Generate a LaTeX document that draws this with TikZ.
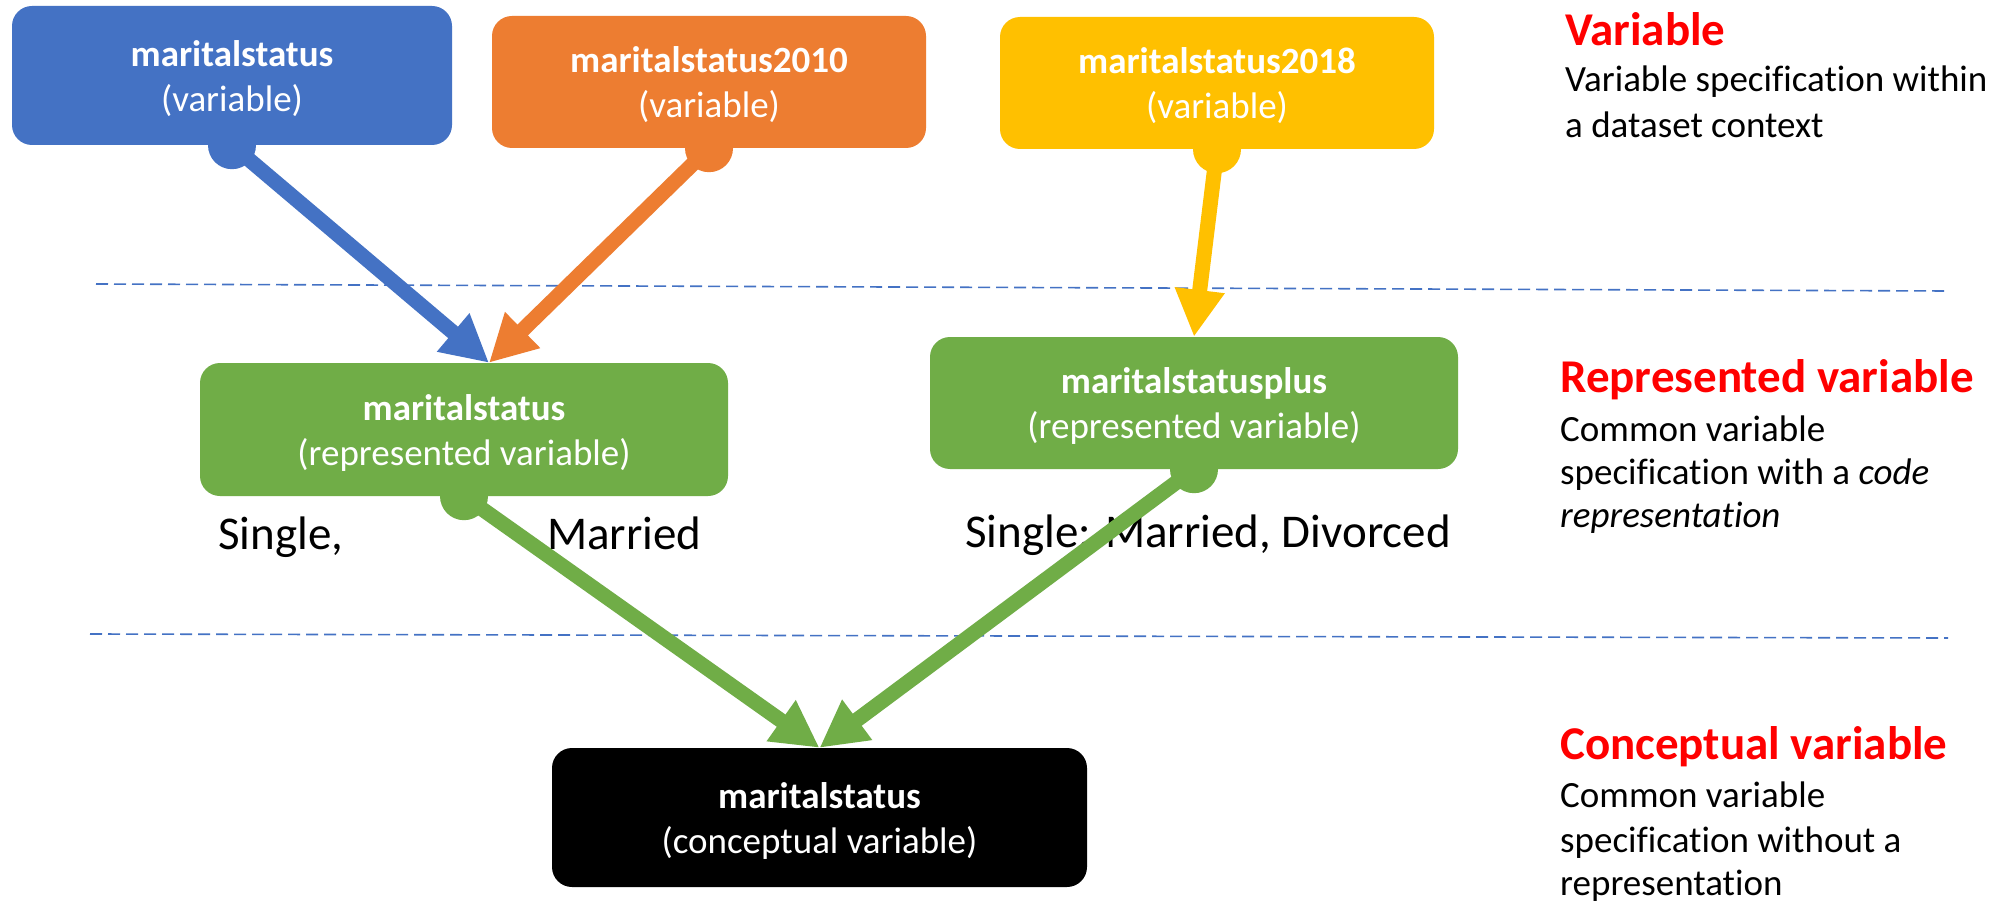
\documentclass[tikz,border=0pt]{standalone}
\usepackage{fontspec}
\setmainfont{Carlito}[Ligatures=NoCommon]
\usetikzlibrary{arrows.meta}
\definecolor{cblue}{HTML}{4472C4}
\definecolor{corange}{HTML}{ED7D31}
\definecolor{cyellow}{HTML}{FFC000}
\definecolor{cgreen}{HTML}{70AD47}
\definecolor{cred}{HTML}{FF0000}
\definecolor{cdash}{HTML}{4472C4}
\begin{document}
\begin{tikzpicture}[x=1pt,y=-1pt,
  box/.style={rounded corners=20pt, inner sep=0pt, draw=none},
  boxtext/.style={inner sep=0pt, align=center, text=white, font=\fontsize{37}{45}\selectfont},
  dot/.style={circle, inner sep=0pt, minimum size=48pt, draw=none},
  conn/.style={line width=15pt, -{Triangle[length=47pt,width=47pt]}},
  sep/.style={draw=cdash, line width=1.6pt, dash pattern=on 12pt off 6pt},
  codes/.style={inner sep=0pt, anchor=base west, font=\fontsize{47}{56}\selectfont},
  head/.style={inner sep=0pt, anchor=base west, text=cred, font=\fontsize{47}{56}\selectfont\bfseries},
  desc/.style={inner sep=0pt, anchor=base west, font=\fontsize{37}{45}\selectfont}]
\useasboundingbox[fill=white] (0,0) rectangle (2003,904);

% separators
\coordinate (s1a) at (96,284);
\coordinate (s1b) at (1948,291);
\coordinate (s2a) at (90,634);
\coordinate (s2b) at (1948,638);
\draw[sep] (s1a) -- (s1b);
\draw[sep] (s2a) -- (s2b);

% boxes
\node[box, fill=cblue, minimum width=440pt, minimum height=139pt] (vb) at (232,75.5) {};
\node[box, fill=corange, minimum width=434pt, minimum height=132pt] (vo) at (709,82) {};
\node[box, fill=cyellow, minimum width=434pt, minimum height=132pt] (vy) at (1217,83) {};
\node[box, fill=cgreen, minimum width=528pt, minimum height=133pt] (rl) at (464,429.5) {};
\node[box, fill=cgreen, minimum width=528pt, minimum height=132pt] (rr) at (1194,403) {};
\node[box, fill=black, minimum width=535pt, minimum height=139pt] (cv) at (819.5,817.5) {};

% box texts
\node[boxtext, yshift=-3pt] (tvb) at (vb.center) {\textbf{maritalstatus}\\(variable)};
\node[boxtext, yshift=-3pt] (tvo) at (vo.center) {\textbf{maritalstatus2010}\\(variable)};
\node[boxtext, yshift=-3pt] (tvy) at (vy.center) {\textbf{maritalstatus2018}\\(variable)};
\node[boxtext, yshift=-3pt] (trl) at (rl.center) {\textbf{maritalstatus}\\(represented variable)};
\node[boxtext, yshift=-3pt] (trr) at (rr.center) {\textbf{maritalstatusplus}\\(represented variable)};
\node[boxtext, yshift=-3pt] (tcv) at (cv.center) {\textbf{maritalstatus}\\(conceptual variable)};

% dots
\node[dot, fill=cblue] (db) at (vb.south) {};
\node[dot, fill=corange] (do) at (vo.south) {};
\node[dot, fill=cyellow] (dy) at (vy.south) {};
\node[dot, fill=cgreen] (dl) at (rl.south) {};
\node[dot, fill=cgreen] (dr) at (rr.south) {};

% code lists
\node[codes] (c1) at (218,549) {Single,};
\node[codes] (c2) at (547,549) {Married};
\node[codes] (c3) at (965,547) {Single: Married, Divorced};

% connectors
\coordinate (rlin) at ([xshift=25pt]rl.north);
\draw[conn, draw=cblue, fill=cblue] (db.center) -- (rlin);
\draw[conn, draw=corange, fill=corange] (do.center) -- (rlin);
\draw[conn, draw=cyellow, fill=cyellow] (dy.center) -- (rr.north);
\draw[conn, draw=cgreen, fill=cgreen] (dl.center) -- (cv.north);
\draw[conn, draw=cgreen, fill=cgreen] (dr.center) -- (cv.north);

% legend
\node[head] (h1) at (1565,46) {Variable};
\node[desc] (d1a) at (1565,92) {Variable specification within};
\node[desc] (d1b) at (1565,138) {a dataset context};
\node[head] (h2) at (1560,392) {Represented variable};
\node[desc] (d2a) at (1560,441) {Common variable};
\node[desc] (d2b) at (1560,484) {specification with a \textit{code}};
\node[desc] (d2c) at (1560,527) {\textit{representation}};
\node[head] (h3) at (1560,759) {Conceptual variable};
\node[desc] (d3a) at (1560,807) {Common variable};
\node[desc] (d3b) at (1560,852) {specification without a};
\node[desc] (d3c) at (1560,895) {representation};
\end{tikzpicture}
\end{document}
